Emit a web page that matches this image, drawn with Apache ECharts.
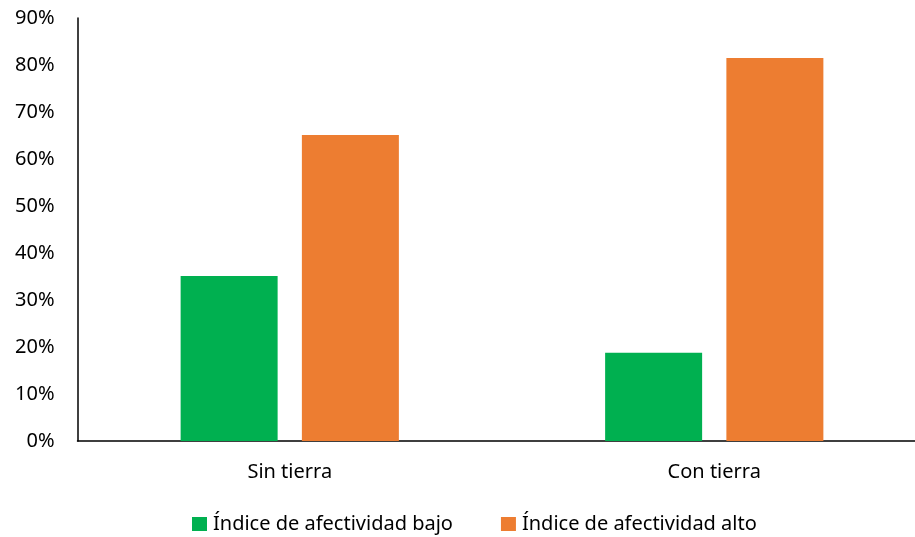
<!DOCTYPE html>
<html>
<head>
<meta charset="utf-8">
<script src="https://cdn.jsdelivr.net/npm/echarts@6/dist/echarts.min.js"></script>
<style>html,body{margin:0;padding:0;background:#fff}#c{width:915px;height:537px}</style>
</head>
<body>
<div id="c"></div>
<script>
const categories = ['Sin tierra', 'Con tierra'];
const seriesNames = ['Índice de afectividad bajo', 'Índice de afectividad alto'];
const bajo = [35.1, 18.8];
const alto = [65.1, 81.5];
const yTicks = [0, 10, 20, 30, 40, 50, 60, 70, 80, 90];

const font = 'Noto Sans';
const chart = echarts.init(document.getElementById('c'));
chart.setOption({
  animation: false,
  textStyle: { fontFamily: font },
  grid: { left: 77.5, top: 18, right: -11.5, bottom: 96, outerBoundsMode: 'none', containLabel: false },
  legend: {
    top: 509,
    left: 187,
    itemWidth: 15, itemHeight: 14, itemGap: 48,
    icon: 'rect',
    textStyle: { fontFamily: font, fontSize: 20, color: '#000', padding: [0, 0, 0, 1] },
    data: seriesNames
  },
  xAxis: {
    type: 'category',
    data: categories,
    axisLine: { lineStyle: { color: '#000', width: 1.5 } },
    axisTick: { show: false },
    axisLabel: { fontFamily: font, fontSize: 20, color: '#000', margin: 21 }
  },
  yAxis: {
    type: 'value',
    min: yTicks[0], max: yTicks[yTicks.length - 1], interval: 10,
    axisLine: { show: true, lineStyle: { color: '#000', width: 1.5 } },
    axisTick: { show: false },
    splitLine: { show: false },
    axisLabel: { fontFamily: font, fontSize: 20, color: '#000', margin: 23, formatter: v => v + '%' }
  },
  series: [
    { name: seriesNames[0], type: 'bar', data: bajo, barWidth: 97, barGap: '25%', itemStyle: { color: '#00B050' } },
    { name: seriesNames[1], type: 'bar', data: alto, barWidth: 97, barGap: '25%', itemStyle: { color: '#ED7D31' } }
  ]
});
</script>
</body>
</html>
